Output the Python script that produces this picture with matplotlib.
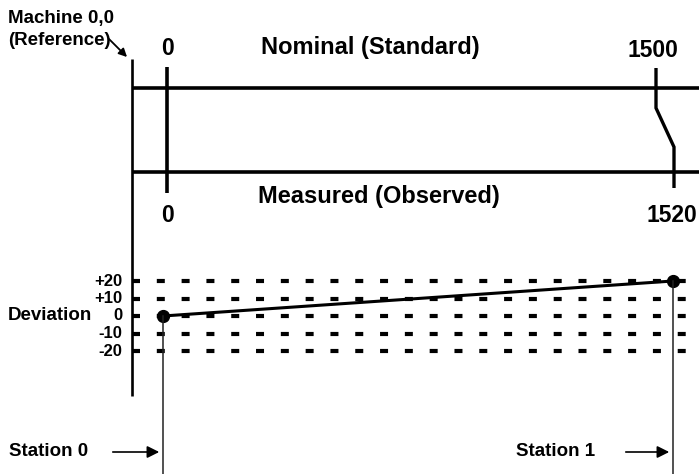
import matplotlib.pyplot as plt

plt.rcParams['font.family'] = ['Liberation Sans', 'DejaVu Sans']
plt.rcParams['font.weight'] = 'bold'
plt.rcParams['lines.scale_dashes'] = False

# data
nominal_labels = ['0', '1500']
measured_labels = ['0', '1520']
dev_levels = [20, 10, 0, -10, -20]
dev_ticklabels = ['+20', '+10', '0', '-10', '-20']
station_names = ['Station 0', 'Station 1']
station_x = [163, 673]       # horizontal position of stations (px)
station_dev = [0, 20]        # deviation measured at each station

W, H = 699, 474
fig = plt.figure(figsize=(W / 100, H / 100), dpi=100)

# layout axes in pixel units
ax = fig.add_axes([0, 0, 1, 1])
ax.set_xlim(0, W)
ax.set_ylim(H, 0)
ax.axis('off')

# deviation axes: same x, y in deviation units (0 at px 316, 1.75 px per unit)
ax2 = fig.add_axes([0, 0, 1, 1])
ax2.set_xlim(0, W)
ax2.set_ylim(-(H - 316) / 1.75, 316 / 1.75)
ax2.axis('off')
ax2.patch.set_alpha(0)

k = 'black'

# reference line
ax.plot([132, 132], [59, 396], color=k, lw=1.9, solid_capstyle='butt')
ax.text(8, 18, 'Machine 0,0', fontsize=13.5, va='center', ha='left')
ax.text(8, 40, '(Reference)', fontsize=13.5, va='center', ha='left')
ax.annotate('', xy=(129, 59), xytext=(107, 37),
            arrowprops=dict(arrowstyle='-|>', color=k, lw=1.3, mutation_scale=12))

# nominal and measured lines
ax.plot([132, W], [88, 88], color=k, lw=2.6, solid_capstyle='butt')
ax.plot([132, W], [172, 172], color=k, lw=2.6, solid_capstyle='butt')

# zero tick
ax.plot([167, 167], [67, 193], color=k, lw=2.6, solid_capstyle='butt')
# 1500 -> 1520 tick
ax.plot([656, 656, 674, 674], [68, 108, 147, 188], color=k, lw=2.4,
        solid_joinstyle='miter', solid_capstyle='butt')

ax.text(167, 48, nominal_labels[0], fontsize=16.5, ha='center', va='center')
ax.text(653, 50, nominal_labels[1], fontsize=16.5, ha='center', va='center')
ax.text(370, 47, 'Nominal (Standard)', fontsize=17, ha='center', va='center')
ax.text(167, 215, measured_labels[0], fontsize=16.5, ha='center', va='center')
ax.text(672, 216, measured_labels[1], fontsize=16.5, ha='center', va='center')
ax.text(379, 197, 'Measured (Observed)', fontsize=17, ha='center', va='center')

# deviation grid
for lev, lab in zip(dev_levels, dev_ticklabels):
    ax2.plot([132, 688], [lev, lev], color=k, lw=3.0,
             dashes=(5.76, 12.1), dash_capstyle='butt')
    ax2.text(122, lev, lab, fontsize=12, ha='right', va='center')
ax2.text(8, 0, 'Deviation', fontsize=13.5, ha='left', va='center')

# deviation line and stations
ax2.plot(station_x, station_dev, color=k, lw=2.2, marker='o', markersize=8.5)
for sx, sd in zip(station_x, station_dev):
    ax2.plot([sx, sx], [sd, ax2.get_ylim()[0]], color='#222222', lw=1.1)

ax.text(9, 452, station_names[0], fontsize=13.5, ha='left', va='center')
ax.annotate('', xy=(162, 452), xytext=(110, 452),
            arrowprops=dict(arrowstyle='-|>', color=k, lw=1.2, mutation_scale=18))
ax.text(516, 452, station_names[1], fontsize=13.5, ha='left', va='center')
ax.annotate('', xy=(672, 452), xytext=(623, 452),
            arrowprops=dict(arrowstyle='-|>', color=k, lw=1.2, mutation_scale=18))

fig.savefig('out.png', dpi=100)
